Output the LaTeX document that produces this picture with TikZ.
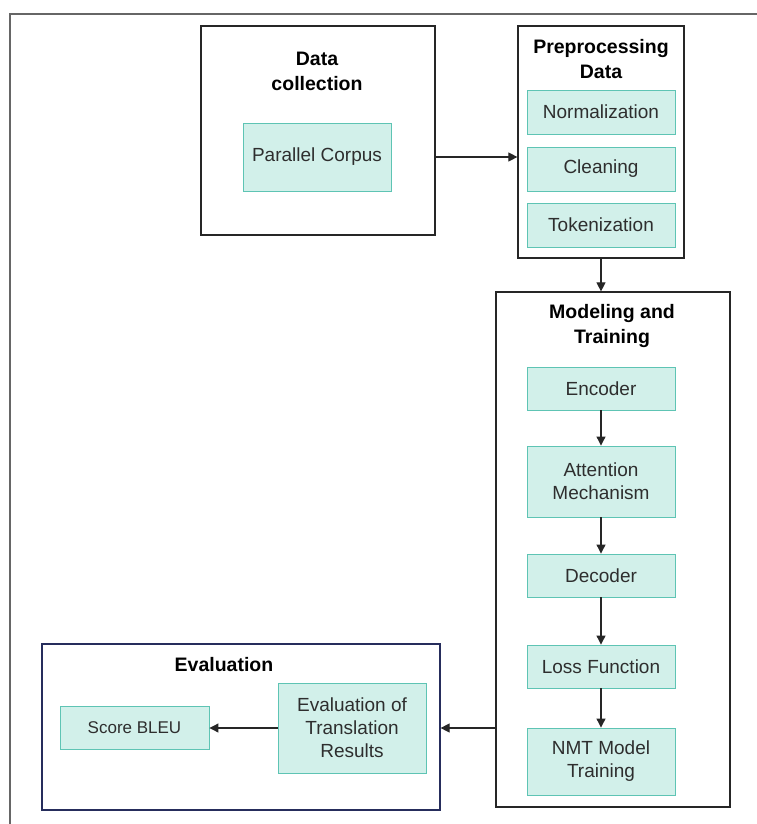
\documentclass[tikz,border=0pt]{standalone}
\usepackage{fontspec}
\setmainfont{Liberation Sans}
\usetikzlibrary{arrows.meta}
\definecolor{stepfill}{HTML}{D2F0EA}
\definecolor{stepline}{HTML}{5EC4B4}
\definecolor{evalline}{HTML}{262D5C}
\definecolor{txt}{HTML}{2E2E2E}

\begin{document}
\begin{tikzpicture}[x=1pt,y=-1pt,
	stepbox/.style={draw=stepline,fill=stepfill,line width=0.9pt,text=txt,align=center,
		font=\fontsize{19}{23}\selectfont,minimum width=148pt,inner sep=0pt},
	group/.style={draw=black!85,line width=1.2pt,inner sep=0pt},
	grouptitle/.style={align=center,font=\fontsize{19.5}{25}\selectfont\bfseries,inner sep=0pt},
	arr/.style={-{Triangle[length=9pt,width=9pt]},line width=1.1pt,black!85}]
	\useasboundingbox (0,0) rectangle (756,824);
	% outer frame
	\draw [black!60,line width=1.2pt] (10,14) rectangle (780,850);
	% data collection
	\node [group,minimum width=234pt,minimum height=209pt] (datacol) at (318,130.5) {};
	\node [grouptitle] (datacoltitle) at (317,71.5) {Data\\collection};
	\node [stepbox,minimum height=68pt] (corpus) at (317,157) {Parallel Corpus};
	% preprocessing
	\node [group,minimum width=166pt,minimum height=232pt] (prep) at (601,142) {};
	\node [grouptitle] (preptitle) at (601,59.5) {Preprocessing\\Data};
	\node [stepbox,minimum height=44pt] (norm) at (601,112) {Normalization};
	\node [stepbox,minimum height=44pt] (clean) at (601,169) {Cleaning};
	\node [stepbox,minimum height=44pt] (token) at (601,225) {Tokenization};
	% modeling and training
	\node [group,minimum width=234pt,minimum height=515pt] (model) at (613,549.5) {};
	\node [grouptitle] (modeltitle) at (612,325.5) {Modeling and\\Training};
	\node [stepbox,minimum height=43pt] (enc) at (601,388.5) {Encoder};
	\node [stepbox,minimum height=71pt] (attn) at (601,481.5) {Attention\\Mechanism};
	\node [stepbox,minimum height=43pt] (dec) at (601,575.5) {Decoder};
	\node [stepbox,minimum height=43pt] (loss) at (601,666.5) {Loss Function};
	\node [stepbox,minimum height=67pt] (nmt) at (601,761.5) {NMT Model\\Training};
	% evaluation
	\node [group,draw=evalline,minimum width=398pt,minimum height=166pt] (eval) at (241,727) {};
	\node [grouptitle] (evaltitle) at (224,665) {Evaluation};
	\node [stepbox,minimum height=90pt] (evalres) at (352,728) {Evaluation of\\Translation\\Results};
	\node [stepbox,minimum width=149pt,minimum height=43pt,font=\fontsize{17}{21}\selectfont] (bleu) at (134.5,728) {Score BLEU};
	% connectors
	\draw [arr] (datacol.east |- corpus) -- (prep.west |- corpus);
	\draw [arr] (prep.south) -- (prep.south |- model.north);
	\draw [arr] (enc) -- (attn);
	\draw [arr] (attn) -- (dec);
	\draw [arr] (dec) -- (loss);
	\draw [arr] (loss) -- (nmt);
	\draw [arr] (model.west |- evalres) -- (eval.east |- evalres);
	\draw [arr] (evalres) -- (bleu);
\end{tikzpicture}
\end{document}
